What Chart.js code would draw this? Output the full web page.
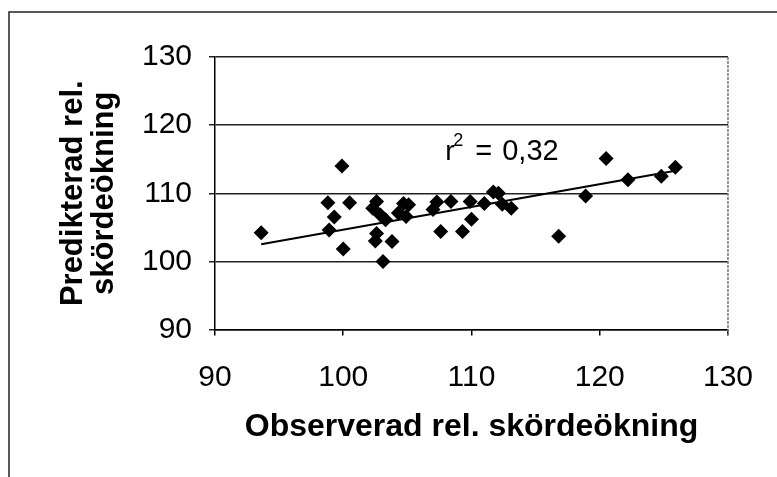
<!DOCTYPE html>
<html lang="sv">
<head>
<meta charset="utf-8">
<script src="https://cdn.jsdelivr.net/npm/chart.js@4"></script>
<style>
  html, body { margin: 0; padding: 0; background: #fff; }
  #wrap { width: 777px; height: 477px; }
</style>
</head>
<body>
<div id="wrap"><canvas id="skordChart" width="777" height="477"></canvas></div>
<script>
// observed vs predicted relative yield increase
const obsX = [93.6, 98.8, 100.5, 99.3, 98.9, 100.0, 99.9, 102.6, 102.3, 102.9,
              103.3, 102.6, 102.5, 103.8, 103.1, 104.7, 105.1, 104.3, 104.9, 107.3,
              107.0, 108.4, 107.6, 109.9, 110.0, 109.3, 111.0, 111.7, 112.1, 112.4,
              113.1, 116.8, 118.9, 120.5, 122.2, 124.8, 125.9];
const predY = [104.2, 108.6, 108.6, 106.5, 104.6, 101.8, 114.0, 108.8, 107.8, 106.8,
               106.1, 104.1, 103.0, 102.9, 100.0, 108.5, 108.3, 107.1, 106.6, 108.7,
               107.6, 108.8, 104.4, 108.8, 106.2, 104.4, 108.5, 110.2, 110.0, 108.4,
               107.8, 103.7, 109.6, 115.1, 112.0, 112.5, 113.8];

// trend line end points
const trendX = [93.6, 125.9];
const trendY = [102.5, 113.3];

const axisMin = 90;
const axisMax = 130;
const axisStep = 10;

const xTitle = 'Observerad rel. skördeökning';
const yTitle = ['Predikterad rel.', 'skördeökning'];
const r2Text = '0,32';

const points = obsX.map((x, i) => ({ x: x, y: predY[i] }));
const trend = trendX.map((x, i) => ({ x: x, y: trendY[i] }));

const frame = {
    id: 'frame',
    beforeDraw(chart) {
        const c = chart.ctx;
        c.save();
        c.fillStyle = '#fff';
        c.fillRect(0, 0, chart.width, chart.height);
        c.strokeStyle = '#222';
        c.lineWidth = 1.5;
        c.beginPath();
        c.moveTo(chart.width, 12);
        c.lineTo(9, 12);
        c.lineTo(9, chart.height);
        c.stroke();
        c.restore();
    },
    afterDraw(chart) {
        const c = chart.ctx;
        const a = chart.chartArea;
        const xs = chart.scales.x;
        const ys = chart.scales.y;
        c.save();
        // right edge of plot area
        c.strokeStyle = '#777';
        c.lineWidth = 1.5;
        c.setLineDash([3, 1]);
        c.beginPath();
        c.moveTo(a.right, a.top);
        c.lineTo(a.right, a.bottom + 6);
        c.stroke();
        c.setLineDash([]);

        // r2 label
        const lx = xs.getPixelForValue(107.95);
        const ly = ys.getPixelForValue(114.9);
        c.fillStyle = '#000';
        c.textBaseline = 'alphabetic';
        c.textAlign = 'left';
        c.font = '28px "Liberation Sans", Arial, sans-serif';
        c.fillText('r', lx, ly);
        c.font = '18px "Liberation Sans", Arial, sans-serif';
        c.fillText('2', lx + 8, ly - 14);
        c.font = '29px "Liberation Sans", Arial, sans-serif';
        c.fillText('=', lx + 30, ly);
        c.fillText(r2Text, lx + 57, ly);
        c.restore();
    }
};

const ctx = document.getElementById('skordChart');

new Chart(ctx, {
    type: 'scatter',
    data: {
        datasets: [{
            data: points,
            pointStyle: 'rectRot',
            pointRadius: 7.5,
            pointHoverRadius: 7.5,
            backgroundColor: '#000',
            borderColor: '#000',
            borderWidth: 0
        }, {
            data: trend,
            showLine: true,
            borderColor: '#000',
            borderWidth: 2,
            pointRadius: 0,
            fill: false
        }]
    },
    options: {
        responsive: false,
        animation: false,
        devicePixelRatio: 1,
        layout: {
            padding: { top: 57, right: 37, bottom: 0, left: 0 }
        },
        plugins: {
            legend: { display: false },
            tooltip: { enabled: false }
        },
        scales: {
            x: {
                type: 'linear',
                min: axisMin,
                max: axisMax,
                afterFit(scale) { scale.height = 147.5; },
                border: { display: true, color: '#000', width: 1.5 },
                grid: {
                    drawOnChartArea: false,
                    drawTicks: true,
                    tickLength: 6,
                    color: '#000',
                    lineWidth: 1.5
                },
                ticks: {
                    stepSize: axisStep,
                    padding: 24,
                    color: '#000',
                    font: { family: '"Liberation Sans", Arial, sans-serif', size: 30 },
                    maxRotation: 0
                },
                title: {
                    display: true,
                    text: xTitle,
                    color: '#000',
                    padding: { top: 0, bottom: 31 },
                    font: { family: '"Liberation Sans", Arial, sans-serif', size: 32, weight: 'bold', lineHeight: 1.2 }
                }
            },
            y: {
                type: 'linear',
                min: axisMin,
                max: axisMax,
                afterFit(scale) { scale.width = 215; },
                border: { display: true, color: '#000', width: 1.5 },
                grid: {
                    drawOnChartArea: true,
                    drawTicks: true,
                    tickLength: 6,
                    color: '#222',
                    lineWidth: 1.5
                },
                ticks: {
                    stepSize: axisStep,
                    padding: 17,
                    color: '#000',
                    font: { family: '"Liberation Sans", Arial, sans-serif', size: 30 }
                },
                title: {
                    display: true,
                    text: yTitle,
                    color: '#000',
                    padding: { top: 58, bottom: 0 },
                    font: { family: '"Liberation Sans", Arial, sans-serif', size: 31, weight: 'bold', lineHeight: 1.0 }
                }
            }
        }
    },
    plugins: [frame]
});
</script>
</body>
</html>
